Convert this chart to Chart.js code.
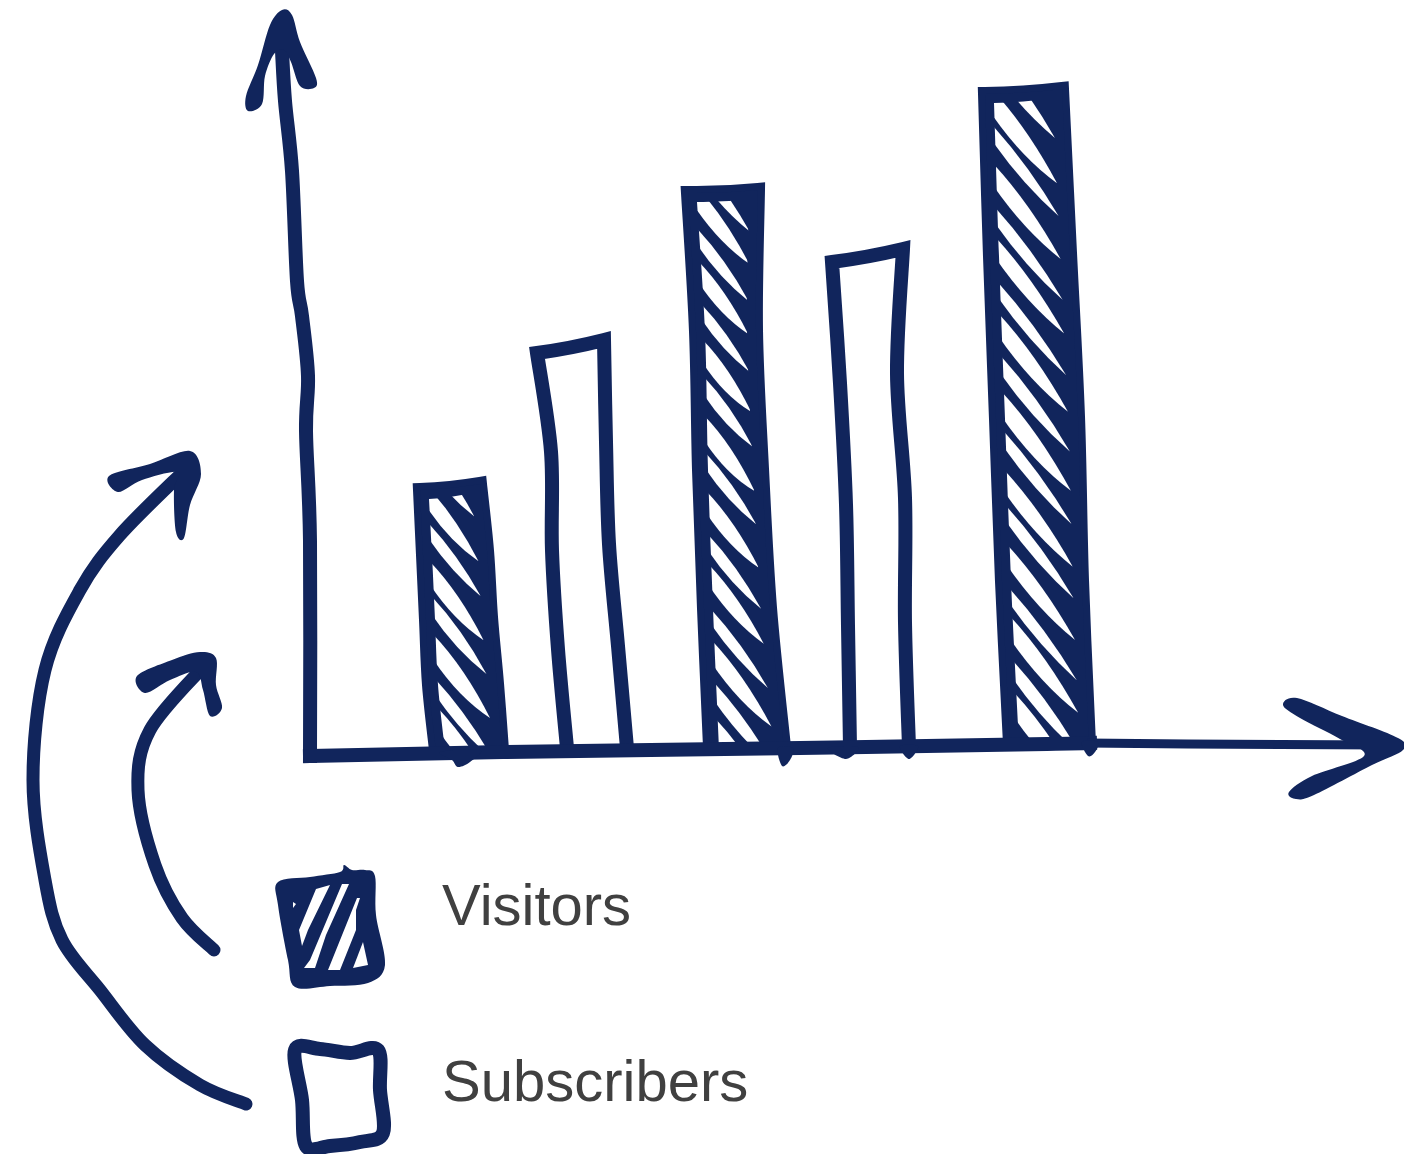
<!DOCTYPE html>
<html>
<head>
<meta charset="utf-8">
<title>Visitors and subscribers</title>
<script src="https://cdn.jsdelivr.net/npm/chart.js@4/dist/chart.umd.min.js"></script>
<style>
html, body { margin: 0; padding: 0; background: #fff; }
canvas { display: block; }
</style>
</head>
<body>
<canvas id="sketchChart" width="1404" height="1154"></canvas>
<script>
// values (no scale in the original, so pixel height of each bar)
const categories = ['1', '2', '3', '4', '5'];
const seriesNames = ['Visitors', 'Subscribers'];
const visitors = [270, null, 565, null, 665];
const subscribers = [null, 410, null, 500, null];

const NAVY = '#11255c';
const TEXT = '#404040';

// hand drawn look: how far each bar edge wanders from the bar centre, top to bottom
const barWobble = [
    { left: [-39, -36, -33, -30, -23], right: [21, 28, 32, 38, 43], topL: 10, topR: 4, lift: 0 },
    { left: [-66, -52, -51, -45, -36], right: [1, 3, 6, 15, 24], topL: 13, topR: 0, lift: 2 },
    { left: [-59, -51, -48, -43, -37], right: [11, 9, 15, 23, 37], topL: 8, topR: 5, lift: 3 },
    { left: [-59, -51, -45, -43, -41], right: [12, 6, 14, 14, 18], topL: 12, topR: -1, lift: 3 },
    { left: [-50, -45, -39, -33, -25], right: [27, 35, 43, 47, 54], topL: 9, topR: 4, lift: 6 }
];
const sliverJitter = [0, 2, -2, 3, -3, 1, 3, -2, 1, -1];
const sliverSize = [16, 21, 15, 23, 18, 25, 16, 22];

function curveThrough(ctx, pts, closed) {
    const n = pts.length;
    const at = (i) => closed ? pts[(i + n) % n] : pts[Math.max(0, Math.min(n - 1, i))];
    const last = closed ? n : n - 1;
    for (let i = 0; i < last; i++) {
        const p0 = at(i - 1), p1 = at(i), p2 = at(i + 1), p3 = at(i + 2);
        ctx.bezierCurveTo(
            p1[0] + (p2[0] - p0[0]) / 6, p1[1] + (p2[1] - p0[1]) / 6,
            p2[0] - (p3[0] - p1[0]) / 6, p2[1] - (p3[1] - p1[1]) / 6,
            p2[0], p2[1]);
    }
}

function strokeCurve(ctx, pts, width) {
    ctx.beginPath();
    ctx.moveTo(pts[0][0], pts[0][1]);
    curveThrough(ctx, pts, false);
    ctx.lineWidth = width;
    ctx.stroke();
}

function fillBlob(ctx, pts) {
    ctx.beginPath();
    ctx.moveTo(pts[0][0], pts[0][1]);
    curveThrough(ctx, pts, true);
    ctx.closePath();
    ctx.fill();
}

function fillPoly(ctx, pts) {
    ctx.beginPath();
    pts.forEach((p, i) => i ? ctx.lineTo(p[0], p[1]) : ctx.moveTo(p[0], p[1]));
    ctx.closePath();
    ctx.fill();
}

function barEdges(el, w) {
    const base = el.base - w.lift;
    const h = base - el.y;
    const scale = el.width / 80;
    const left = w.left.map((o, i) => [el.x + o * scale, el.y + w.topL + (h - w.topL) * i / 4]);
    const right = w.right.map((o, i) => [el.x + o * scale, el.y + w.topR + (h - w.topR) * i / 4]);
    return { left, right };
}

// open at the bottom, the axis closes the bar
function outline(ctx, e, inset) {
    const l = e.left.map((p) => [p[0] + inset, p[1]]);
    const r = e.right.map((p) => [p[0] - inset, p[1]]);
    l[0][1] += inset; r[0][1] += inset;
    ctx.beginPath();
    ctx.moveTo(l[4][0], l[4][1]);
    curveThrough(ctx, l.slice().reverse(), false);
    ctx.quadraticCurveTo((l[0][0] + r[0][0]) / 2, (l[0][1] + r[0][1]) / 2 + 2, r[0][0], r[0][1]);
    curveThrough(ctx, r, false);
}

function edgeX(pts, y) {
    const t = (y - pts[0][1]) / (pts[4][1] - pts[0][1]) * 4;
    const i = Math.max(0, Math.min(3, Math.floor(t)));
    return pts[i][0] + (pts[i + 1][0] - pts[i][0]) * (t - i);
}

function drawSliver(ctx, x1, y1, x2, y2, size) {
    const mx = x1 + (x2 - x1) * 0.5, my = y1 + (y2 - y1) * 0.5;
    ctx.beginPath();
    ctx.moveTo(x1, y1 - size / 2);
    ctx.quadraticCurveTo(mx + 3, my - size * 0.6, x2, y2);
    ctx.quadraticCurveTo(mx - 3, my + size * 0.6, x1, y1 + size / 2);
    ctx.closePath();
    ctx.fill();
}

function drawHatch(ctx, e, index) {
    ctx.save();
    outline(ctx, e, 9);
    ctx.clip();
    ctx.fillStyle = '#fff';
    const top = e.left[0][1];
    const base = e.left[4][1];
    let k = index * 3;
    for (let y = top - 34; y < base; y += 38) {
        const yy = y + sliverJitter[k % sliverJitter.length];
        const x1 = edgeX(e.left, Math.max(top, Math.min(base, yy))) + 6;
        const x2 = edgeX(e.right, Math.max(top, Math.min(base, yy + 50))) - 8;
        drawSliver(ctx, x1, yy, x2, yy + (x2 - x1) * 1.25, sliverSize[k % sliverSize.length]);
        k++;
    }
    ctx.restore();
}

function drawAxes(ctx, area) {
    const x0 = area.left - 77;
    const y0 = area.bottom + 6;
    ctx.lineCap = 'square';
    // y axis
    strokeCurve(ctx, [[x0, y0], [x0, y0 - 215], [x0 - 4, y0 - 325], [x0 - 2, y0 - 380], [x0 - 8, y0 - 440],
        [x0 - 13, y0 - 475], [x0 - 18, y0 - 585], [x0 - 25, y0 - 655], [x0 - 28, y0 - 705]], 14);
    // x axis
    strokeCurve(ctx, [[x0, y0], [area.left + 120, y0 - 4], [area.left + 413, y0 - 8], [area.left + 660, y0 - 12],
        [area.left + 703, y0 - 13]], 14);
    ctx.lineCap = 'butt';
    strokeCurve(ctx, [[area.left + 700, y0 - 13], [area.left + 800, y0 - 12], [area.left + 1000, y0 - 11]], 9);
    ctx.lineCap = 'round';
    fillBlob(ctx, [[282, 10], [292, 15], [300, 42], [316, 78], [314, 88], [300, 86], [291, 62], [284, 50], [274, 54],
        [265, 76], [262, 104], [248, 111], [246, 96], [258, 65], [270, 25]]);
    fillBlob(ctx, [[1283, 705], [1297, 698], [1342, 716], [1398, 738], [1403, 750], [1372, 765], [1314, 795], [1296, 799],
        [1289, 792], [1312, 776], [1364, 756], [1340, 739], [1300, 718]]);
}

function drawCurvedArrows(ctx) {
    strokeCurve(ctx, [[246, 1104], [200, 1085], [145, 1045], [100, 990], [62, 940], [45, 880], [33, 780], [45, 670],
        [80, 590], [120, 535], [185, 470]], 13);
    fillBlob(ctx, [[109, 476], [150, 464], [190, 451], [201, 474], [190, 505], [184, 538], [176, 532], [174, 490], [178, 472], [142, 480], [118, 492]]);
    strokeCurve(ctx, [[214, 950], [182, 918], [155, 865], [138, 790], [150, 730], [205, 665]], 13);
    fillBlob(ctx, [[137, 676], [172, 660], [200, 652], [216, 658], [216, 685], [222, 708], [210, 716], [203, 690], [196, 672], [170, 680], [145, 693]]);
    // blobs left behind under the axis
    fillBlob(ctx, [[440, 752], [480, 750], [470, 762], [458, 767], [452, 760]]);
    fillBlob(ctx, [[778, 748], [793, 748], [790, 760], [782, 766]]);
    fillBlob(ctx, [[828, 748], [858, 747], [846, 759]]);
    fillBlob(ctx, [[900, 746], [918, 746], [909, 759]]);
    fillBlob(ctx, [[1082, 742], [1098, 742], [1095, 752], [1088, 756]]);
}

function drawLegend(ctx) {
    fillBlob(ctx, [[278, 882], [310, 877], [340, 872], [344, 865], [352, 870], [365, 870], [375, 876], [376, 915], [385, 965],
        [368, 983], [330, 986], [295, 987], [288, 960], [278, 905]]);
    ctx.fillStyle = '#fff';
    fillPoly(ctx, [[316, 889], [330, 885], [308, 930], [302, 946], [299, 930]]);
    fillPoly(ctx, [[342, 884], [349, 884], [326, 935], [315, 968], [304, 968], [310, 960]]);
    fillPoly(ctx, [[357, 898], [360, 898], [356, 910], [356, 930], [340, 970], [328, 970]]);
    fillPoly(ctx, [[293, 902], [296, 904], [293, 908]]);
    fillPoly(ctx, [[363, 942], [368, 965], [353, 968]]);
    ctx.beginPath();
    const box = [[295, 1050], [320, 1049], [350, 1053], [378, 1050], [380, 1090], [383, 1133], [360, 1142], [330, 1146], [306, 1146], [302, 1100]];
    ctx.moveTo(box[0][0], box[0][1]);
    curveThrough(ctx, box, true);
    ctx.closePath();
    ctx.lineWidth = 14;
    ctx.lineJoin = 'round';
    ctx.stroke();
    ctx.fillStyle = TEXT;
    ctx.font = '58px "Liberation Sans", sans-serif';
    ctx.textBaseline = 'alphabetic';
    ctx.fillText(seriesNames[0], 442, 925);
    ctx.fillText(seriesNames[1], 442, 1101);
}

const sketchPlugin = {
    id: 'sketch',
    afterDatasetsDraw(chart) {
        const ctx = chart.ctx;
        ctx.save();
        ctx.fillStyle = NAVY;
        ctx.strokeStyle = NAVY;
        ctx.lineCap = 'butt';
        ctx.lineJoin = 'miter';
        chart.data.datasets.forEach((ds, d) => {
            chart.getDatasetMeta(d).data.forEach((el, i) => {
                if (ds.data[i] === null) return;
                const e = barEdges(el, barWobble[i]);
                outline(ctx, e, 0);
                ctx.lineWidth = 14;
                ctx.stroke();
                if (d === 0) {
                    ctx.fill();
                    drawHatch(ctx, e, i);
                }
            });
        });
        ctx.lineCap = 'round';
        ctx.lineJoin = 'round';
        drawAxes(ctx, chart.chartArea);
        drawCurvedArrows(ctx);
        drawLegend(ctx);
        ctx.restore();
    }
};

new Chart(document.getElementById('sketchChart'), {
    type: 'bar',
    data: {
        labels: categories,
        datasets: [
            { label: seriesNames[0], data: visitors, backgroundColor: 'rgba(0,0,0,0)', barThickness: 80 },
            { label: seriesNames[1], data: subscribers, backgroundColor: 'rgba(0,0,0,0)', barThickness: 80 }
        ]
    },
    options: {
        responsive: false,
        animation: false,
        layout: { padding: { left: 387, right: 297, top: 10, bottom: 404 } },
        plugins: { legend: { display: false }, tooltip: { enabled: false } },
        scales: {
            x: { display: false, stacked: true },
            y: { display: false, stacked: true, min: 0, max: 740 }
        }
    },
    plugins: [sketchPlugin]
});
</script>
</body>
</html>
